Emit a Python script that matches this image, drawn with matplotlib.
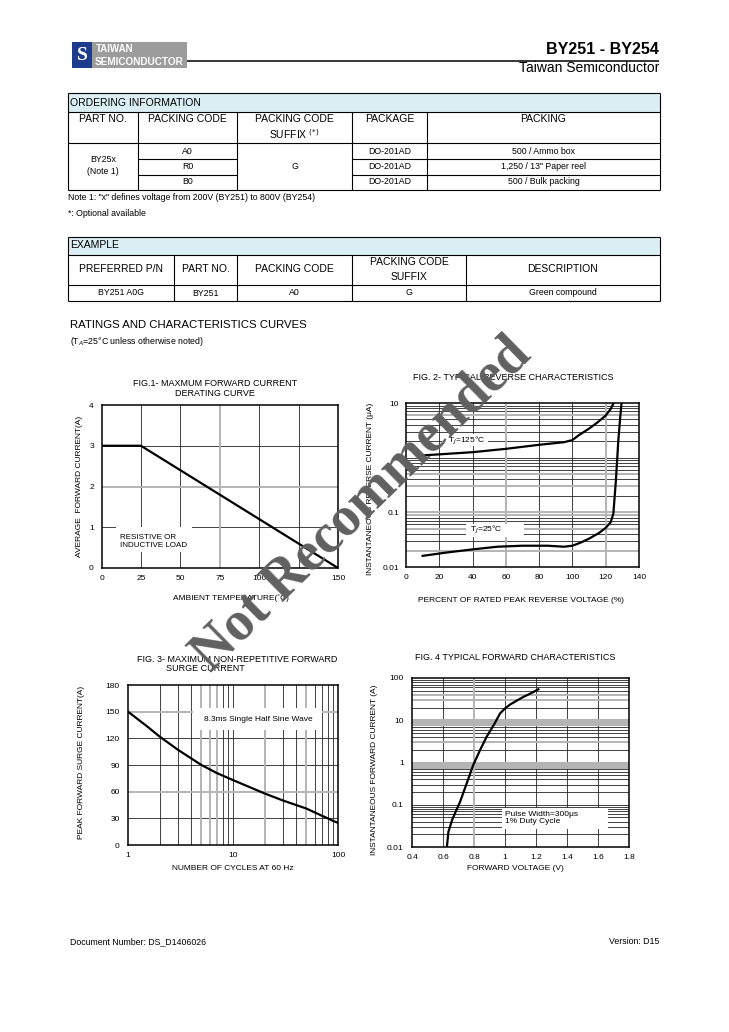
import matplotlib
matplotlib.use('Agg')
import matplotlib.pyplot as plt
from matplotlib.patches import Rectangle

plt.rcParams['font.family'] = ['Liberation Sans', 'DejaVu Sans']

W, H = 729, 1032

# ---- data ----
fig1_temp = [0, 25, 150]
fig1_current = [3, 3, 0]

fig2_pct_125 = [10, 20, 40, 60, 80, 95, 100, 104, 110, 115, 120, 123, 124.8]
fig2_ir_125 = [1.1, 1.15, 1.26, 1.45, 1.72, 1.92, 2.1, 2.6, 3.4, 4.4, 5.9, 7.8, 10]

fig2_pct_25 = [10, 25, 40, 55, 70, 85, 95, 100, 105, 110, 116, 120, 123, 124.6, 126, 127.6, 128.6, 129.5]
fig2_ir_25 = [0.016, 0.0185, 0.021, 0.0235, 0.0245, 0.0245, 0.0235, 0.0245, 0.028, 0.033,
              0.042, 0.052, 0.066, 0.095, 0.34, 2.1, 5, 10]

fig3_cycles = [1, 1.5, 2, 3, 5, 7, 10, 20, 30, 50, 70, 80, 90, 100]
fig3_ifsm = [150, 134, 122, 107, 90, 81, 73, 58, 50, 41, 33, 30, 27, 25]

fig4_vf = [0.625, 0.63, 0.635, 0.66, 0.71, 0.75, 0.795, 0.84, 0.882, 0.93, 0.968, 1.0,
           1.032, 1.075, 1.118, 1.17, 1.215]
fig4_if = [0.01, 0.015, 0.023, 0.045, 0.117, 0.3, 0.87, 2.0, 4.1, 8.0, 14.5, 19,
           23.5, 29, 35.6, 44, 54]

fig1_xticks = [0, 25, 50, 75, 100, 125, 150]
fig1_yticks = [0, 1, 2, 3, 4]
fig2_xticks = [0, 20, 40, 60, 80, 100, 120, 140]
fig2_yticks = [0.01, 0.1, 1, 10]
fig2_ylabels = ['0.01', '0.1', '1', '10']
fig3_xticks = [1, 10, 100]
fig3_yticks = [0, 30, 60, 90, 120, 150, 180]
fig4_xticks = [0.4, 0.6, 0.8, 1.0, 1.2, 1.4, 1.6, 1.8]
fig4_xlabels = ['0.4', '0.6', '0.8', '1', '1.2', '1.4', '1.6', '1.8']
fig4_yticks = [0.01, 0.1, 1, 10, 100]
fig4_ylabels = ['0.01', '0.1', '1', '10', '100']

ordering_cols = ['PART NO.', 'PACKING CODE', 'PACKING CODE', 'PACKAGE', 'PACKING']
packing_codes = ['A0', 'R0', 'B0']
packages = ['DO-201AD', 'DO-201AD', 'DO-201AD']
packings = ['500 / Ammo box', '1,250 / 13" Paper reel', '500 / Bulk packing']
example_cols = ['PREFERRED P/N', 'PART NO.', 'PACKING CODE', 'PACKING CODE', 'DESCRIPTION']
example_row = ['BY251 A0G', 'BY251', 'A0', 'G', 'Green compound']

DARK = '#222222'
GRAY = '#b4b4b4'
BLUE_HDR = '#dbeef4'

fig = plt.figure(figsize=(W / 100, H / 100), dpi=100)
page = fig.add_axes([0, 0, 1, 1])
page.set_xlim(0, W)
page.set_ylim(H, 0)
page.axis('off')


def T(x, y, s, size=6, ha='center', va='center', **kw):
    page.text(x, y, s, fontsize=size, ha=ha, va=va, **kw)


def hl(y, x0, x1, lw=0.8):
    page.plot([x0, x1], [y, y], color='black', lw=lw, solid_capstyle='butt')


def vl(x, y0, y1, lw=0.8):
    page.plot([x, x], [y0, y1], color='black', lw=lw, solid_capstyle='butt')


# ---- header ----
page.add_patch(Rectangle((72, 42), 20, 26, facecolor='#1e3c8e', edgecolor='none'))
T(82, 55.5, 'S', size=14, color='white', fontweight='bold', family='Liberation Serif')
page.add_patch(Rectangle((92, 42), 95, 26, facecolor='#9c9c9c', edgecolor='none'))
T(96, 49, 'TAIWAN', size=7, ha='left', color='white', fontweight='bold')
T(95, 62, 'SEMICONDUCTOR', size=7.2, ha='left', color='white', fontweight='bold')
hl(60.5, 187, 659, lw=1.1)
T(659, 50, 'BY251 - BY254', size=11.5, ha='right', fontweight='bold')
T(659, 67.5, 'Taiwan Semiconductor', size=10, ha='right')

# ---- ordering information table ----
xs = [68, 138, 237, 352, 427, 660]
page.add_patch(Rectangle((68, 93), 592, 19, facecolor=BLUE_HDR, edgecolor='none'))
hl(93, 68, 660); hl(112, 68, 660); hl(143, 68, 660); hl(190, 68, 660)
vl(68, 93, 190); vl(660, 93, 190)
for x in xs[1:-1]:
    vl(x, 112, 190)
for y in [159, 174.5]:
    hl(y, 138, 237); hl(y, 352, 660)
T(70, 102.5, 'ORDERING INFORMATION', size=7.5, ha='left')
for i, c in enumerate(ordering_cols):
    T((xs[i] + xs[i + 1]) / 2, 119, c, size=7.5)
T((237 + 352) / 2, 134, 'SUFFIX $^{(*)}$', size=7.5)
T(103, 159, 'BY25x', size=6.3)
T(103, 172, '(Note 1)', size=6.3)
for i, yy in enumerate([151, 166.5, 182]):
    T(187.5, yy, packing_codes[i], size=6.3)
    T(389.5, yy, packages[i], size=6.3)
    T(543.5, yy, packings[i], size=6.3)
T(294.5, 166.5, 'G', size=6.3)
T(68, 197.5, 'Note 1: "x" defines voltage from 200V (BY251) to 800V (BY254)', size=6.3, ha='left')
T(68, 213.5, '*: Optional available', size=6.3, ha='left')

# ---- example table ----
xe = [68, 174, 237, 352, 466, 660]
page.add_patch(Rectangle((68, 237), 592, 18, facecolor=BLUE_HDR, edgecolor='none'))
hl(237, 68, 660); hl(255, 68, 660); hl(285, 68, 660); hl(301, 68, 660)
vl(68, 237, 301); vl(660, 237, 301)
for x in xe[1:-1]:
    vl(x, 255, 301)
T(70, 245.5, 'EXAMPLE', size=7.5, ha='left')
for i, c in enumerate(example_cols):
    cy = 262 if i == 3 else 269
    T((xe[i] + xe[i + 1]) / 2, cy, c, size=7.5)
T((352 + 466) / 2, 277.5, 'SUFFIX', size=7.5)
for i, c in enumerate(example_row):
    T((xe[i] + xe[i + 1]) / 2, 294 if i == 1 else 292.5, c, size=6.3)

T(70, 325, 'RATINGS AND CHARACTERISTICS CURVES', size=8.2, ha='left')
T(70, 341.5, '(T$_A$=25°C unless otherwise noted)', size=6.3, ha='left')

T(70, 942, 'Document Number: DS_D1406026', size=6.3, ha='left')
T(659, 942, 'Version: D15', size=6.3, ha='right')


# ---- charts ----
def make_ax(l, t, r, b):
    ax = fig.add_axes([l / W, 1 - b / H, (r - l) / W, (b - t) / H])
    for sp in ax.spines.values():
        sp.set_linewidth(1.1)
        sp.set_zorder(5)
    ax.tick_params(length=0, labelsize=6)
    return ax


def grid_lines(ax, xdark=(), xgray=(), ydark=(), ygray=()):
    for v in xdark:
        ax.axvline(v, color=DARK, lw=0.6, zorder=1)
    for v in xgray:
        ax.axvline(v, color=GRAY, lw=1.4, zorder=1.5)
    for v in ydark:
        ax.axhline(v, color=DARK, lw=0.6, zorder=1)
    for v in ygray:
        ax.axhline(v, color=GRAY, lw=1.4, zorder=1.5)


def white_box(ax, x0, y0, x1, y1):
    ax.add_patch(Rectangle((x0, y0), x1 - x0, y1 - y0, transform=page.transData,
                           facecolor='white', edgecolor='none', zorder=2.5, clip_on=False))


def log_minors(lo_exp, hi_exp):
    vals = []
    for e in range(lo_exp, hi_exp):
        for m in range(2, 10):
            vals.append(round(m * 10 ** e, 6))
    return vals


# FIG 1
ax1 = make_ax(101.5, 405, 338, 568)
ax1.set_xlim(0, 150)
ax1.set_ylim(0, 4)
ax1.set_xticks(fig1_xticks)
ax1.set_yticks(fig1_yticks)
ax1.tick_params(axis='x', pad=5)
ax1.tick_params(axis='y', pad=5.5)
grid_lines(ax1, xdark=[25, 50, 100, 125], xgray=[75], ydark=[1, 3], ygray=[2])
white_box(ax1, 116, 527, 192, 552)
ax1.text(12, 0.65, 'RESISTIVE OR\nINDUCTIVE LOAD', fontsize=5.8, ha='left', va='center', zorder=3)
ax1.plot(fig1_temp, fig1_current, color='black', lw=1.6, zorder=4, solid_capstyle='butt')
T(215, 383, 'FIG.1- MAXMUM FORWARD CURRENT', size=6.5)
T(215, 393, 'DERATING CURVE', size=6.5)
T(231, 598, 'AMBIENT TEMPERATURE(˚C)', size=6)
T(80, 486, 'AVERAGE  FORWARD CURRENT(A)', size=6, rotation=90)

# FIG 2
ax2 = make_ax(406, 403, 639, 567)
ax2.set_xlim(0, 140)
ax2.set_yscale('log')
ax2.set_ylim(0.01, 10)
ax2.set_xticks(fig2_xticks)
ax2.set_yticks(fig2_yticks, fig2_ylabels)
ax2.minorticks_off()
ax2.tick_params(axis='x', pad=5)
ax2.tick_params(axis='y', pad=5)
g2_gray = [6, 0.5, 0.3, 0.1, 0.09, 0.05, 0.02]
g2_dark = [v for v in log_minors(-2, 1) + [1] if v not in g2_gray]
grid_lines(ax2, xdark=[20, 40, 80, 100], xgray=[60, 120], ydark=g2_dark, ygray=g2_gray)
white_box(ax2, 442, 434, 488, 446)
white_box(ax2, 466, 524, 524, 537)
ax2.text(25.5, 2.05, 'T$_J$=125°C', fontsize=6, ha='left', va='center', zorder=3)
ax2.text(38.5, 0.047, 'T$_J$=25°C', fontsize=6, ha='left', va='center', zorder=3)
ax2.plot(fig2_pct_125, fig2_ir_125, color='black', lw=1.6, zorder=4)
ax2.plot(fig2_pct_25, fig2_ir_25, color='black', lw=1.6, zorder=4)
T(513, 377, 'FIG. 2- TYPICAL REVERSE CHARACTERISTICS', size=6.5)
T(521, 600, 'PERCENT OF RATED PEAK REVERSE VOLTAGE (%)', size=6)
T(371, 489, 'INSTANTANEOUS REVERSE CURRENT (μA)', size=6, rotation=90)

# FIG 3
ax3 = make_ax(128, 685, 338, 845)
ax3.set_xscale('log')
ax3.set_xlim(1, 100)
ax3.set_ylim(0, 180)
ax3.set_xticks(fig3_xticks, ['1', '10', '100'])
ax3.minorticks_off()
ax3.set_yticks(fig3_yticks)
ax3.tick_params(axis='x', pad=5)
ax3.tick_params(axis='y', pad=6)
grid_lines(ax3, xdark=[2, 3, 4, 8, 9, 10, 30, 40, 60, 70, 80, 90], xgray=[5, 6, 7, 20, 50],
           ydark=[30, 90, 120], ygray=[60, 150])
white_box(ax3, 193, 708, 322, 730)
ax3.text(0.62, 0.785, '8.3ms Single Half Sine Wave', transform=ax3.transAxes,
         fontsize=6, ha='center', va='center', zorder=3)
ax3.plot(fig3_cycles, fig3_ifsm, color='black', lw=1.6, zorder=4)
T(237, 659, 'FIG. 3- MAXIMUM NON-REPETITIVE FORWARD', size=6.5)
T(166, 668.5, 'SURGE CURRENT', size=6.5, ha='left')
T(233, 868, 'NUMBER OF CYCLES AT 60 Hz', size=6)
T(82, 762, 'PEAK FORWARD SURGE CURRENT(A)', size=6, rotation=90)

# FIG 4
ax4 = make_ax(412, 678, 629, 847)
ax4.set_xlim(0.4, 1.8)
ax4.set_yscale('log')
ax4.set_ylim(0.01, 100)
ax4.set_xticks(fig4_xticks, fig4_xlabels)
ax4.set_yticks(fig4_yticks, fig4_ylabels)
ax4.minorticks_off()
ax4.tick_params(axis='x', pad=5)
ax4.tick_params(axis='y', pad=6)
g4_gray = [0.8, 0.9, 1, 3, 8, 9, 10, 30, 40]
g4_dark = [v for v in log_minors(-2, 2) + [0.1] if v not in g4_gray]
grid_lines(ax4, xdark=[0.6, 1.0, 1.2, 1.4, 1.6], xgray=[0.8], ydark=g4_dark, ygray=g4_gray)
for v in [0.8, 0.9, 1, 8, 9, 10]:
    ax4.axhline(v, color=GRAY, lw=2.2, zorder=1.5)
white_box(ax4, 502, 808, 608, 829)
ax4.text(0.43, 0.172, 'Pulse Width=300μs\n1% Duty Cycle', transform=ax4.transAxes,
         fontsize=6, ha='left', va='center', zorder=3, linespacing=1.15)
ax4.plot(fig4_vf, fig4_if, color='black', lw=1.6, zorder=4)
T(515, 657, 'FIG. 4 TYPICAL FORWARD CHARACTERISTICS', size=6.5)
T(515, 868, 'FORWARD VOLTAGE (V)', size=6)
T(375, 770, 'INSTANTANEOUS FORWARD CURRENT (A)', size=6, rotation=90)

# watermark
fig.text(362 / W, 1 - 505 / H, 'Not Recommended', fontsize=40, rotation=44.5,
         ha='center', va='center', family=['Liberation Serif', 'DejaVu Serif'],
         fontweight='bold', color='#606060', zorder=20)

fig.savefig('out.png', dpi=100)
